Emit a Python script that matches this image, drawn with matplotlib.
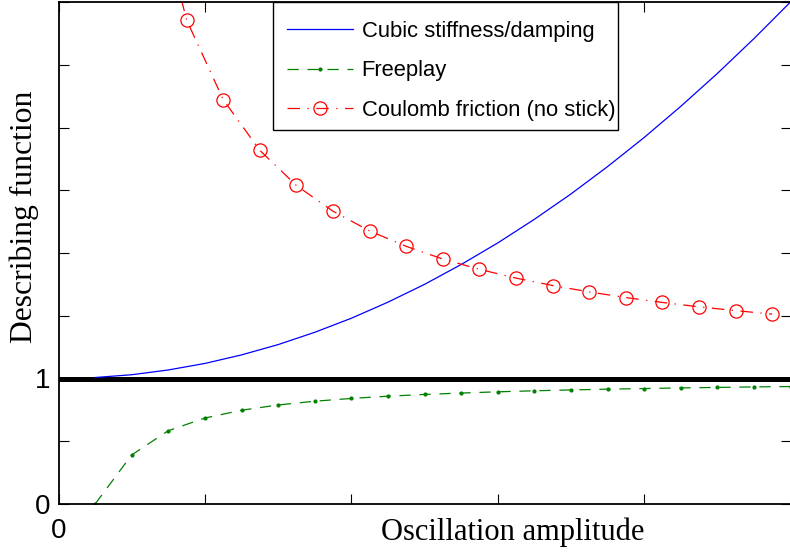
import matplotlib
matplotlib.use("Agg")
import matplotlib.pyplot as plt
from matplotlib.patches import Rectangle

# Data
amp_cubic = [0.25, 0.5, 0.75, 1.0, 1.25, 1.5, 1.75, 2.0, 2.25, 2.5, 2.75, 3.0,
             3.25, 3.5, 3.75, 4.0, 4.25, 4.5, 4.75, 5.0]
df_cubic = [1.008, 1.03, 1.068, 1.12, 1.188, 1.27, 1.368, 1.48, 1.608, 1.75, 1.908, 2.08,
            2.268, 2.47, 2.688, 2.92, 3.168, 3.43, 3.708, 4.0]

amp_free = [0.25, 0.5, 0.75, 1.0, 1.25, 1.5, 1.75, 2.0, 2.25, 2.5, 2.75, 3.0,
            3.25, 3.5, 3.75, 4.0, 4.25, 4.5, 4.75, 5.0]
df_free = [0.0, 0.391, 0.584, 0.685, 0.747, 0.789, 0.819, 0.841, 0.859, 0.873, 0.884, 0.894,
           0.902, 0.909, 0.915, 0.920, 0.925, 0.929, 0.933, 0.936]

amp_coul = [0.625, 0.875, 1.125, 1.375, 1.625, 1.875, 2.125, 2.375, 2.625, 2.875, 3.125,
            3.375, 3.625, 3.875, 4.125, 4.375, 4.625, 4.875]
df_coul = [5.0, 3.857, 3.222, 2.818, 2.538, 2.333, 2.176, 2.053, 1.952, 1.870, 1.800,
           1.741, 1.690, 1.645, 1.606, 1.571, 1.541, 1.513]

labels = ["Cubic stiffness/damping", "Freeplay", "Coulomb friction (no stick)"]
x_ticks = [0, 1, 2, 3, 4, 5]
x_ticklabels = ["0", "", "", "", "", ""]
y_ticks = [0, 0.5, 1, 1.5, 2, 2.5, 3, 3.5, 4]
y_ticklabels = ["0", "", "1", "", "", "", "", "", ""]

W, H = 790, 552
fig = plt.figure(figsize=(7.9, 5.52), dpi=100)
ax_l, ax_r, ax_t, ax_b = 58.5, 790.5, 2, 504
ax = fig.add_axes([ax_l / W, 1 - ax_b / H, (ax_r - ax_l) / W, (ax_b - ax_t) / H])

def px2ax(px, py):
    return ((px - ax_l) / (ax_r - ax_l), (ax_b - py) / (ax_b - ax_t))

ax.plot(amp_cubic, df_cubic, color=(0, 0, 1), lw=0.9, label=labels[0])
ax.plot(amp_free, df_free, color=(0, 0.5, 0), lw=0.9, ls=(0, (9, 7)), marker='.',
        markersize=4, label=labels[1])
ax.plot(amp_coul, df_coul, color=(1, 0, 0), lw=0.9, ls=(0, (10, 6, 1, 6)), marker='o',
        markersize=9.5, markerfacecolor='none', markeredgewidth=0.9, label=labels[2])
ax.axhline(1, color='black', lw=3.6, zorder=1)

ax.set_xlim(0, 5)
ax.set_ylim(0, 4)
ax.set_xticks(x_ticks)
ax.set_xticklabels(x_ticklabels)
ax.set_yticks(y_ticks)
ax.set_yticklabels(y_ticklabels)
ax.tick_params(direction='in', length=7, width=0.8, top=True, right=True,
               labelsize=20, pad=6)
for lab in ax.get_xticklabels() + ax.get_yticklabels():
    lab.set_fontfamily('Liberation Sans')
ax.tick_params(axis='x', pad=10)
for s in ax.spines.values():
    s.set_linewidth(1.3)

# legend frame drawn as a rectangle, legend contents placed inside
x0, y0 = px2ax(273, 130)
x1, y1 = px2ax(618, 2)
ax.add_patch(Rectangle((x0, y0), x1 - x0, y1 - y0, transform=ax.transAxes,
                       facecolor='white', edgecolor='black', lw=1.0, zorder=5,
                       clip_on=False))
leg = ax.legend(loc='upper left', bbox_to_anchor=px2ax(287, 21),
                borderaxespad=0, borderpad=0, frameon=False,
                prop={'family': 'Liberation Sans', 'size': 15.8},
                handlelength=3.0, labelspacing=0.84, handletextpad=0.4)
leg.set_zorder(6)

fig.text(24 / W, 1 - 217 / H, "Describing function", rotation=90, ha='center',
         va='center', family='Liberation Serif', fontsize=22.8)
fig.text(513 / W, 1 - 532 / H, "Oscillation amplitude", ha='center', va='center',
         family='Liberation Serif', fontsize=22)

fig.savefig("out.png", dpi=100)
